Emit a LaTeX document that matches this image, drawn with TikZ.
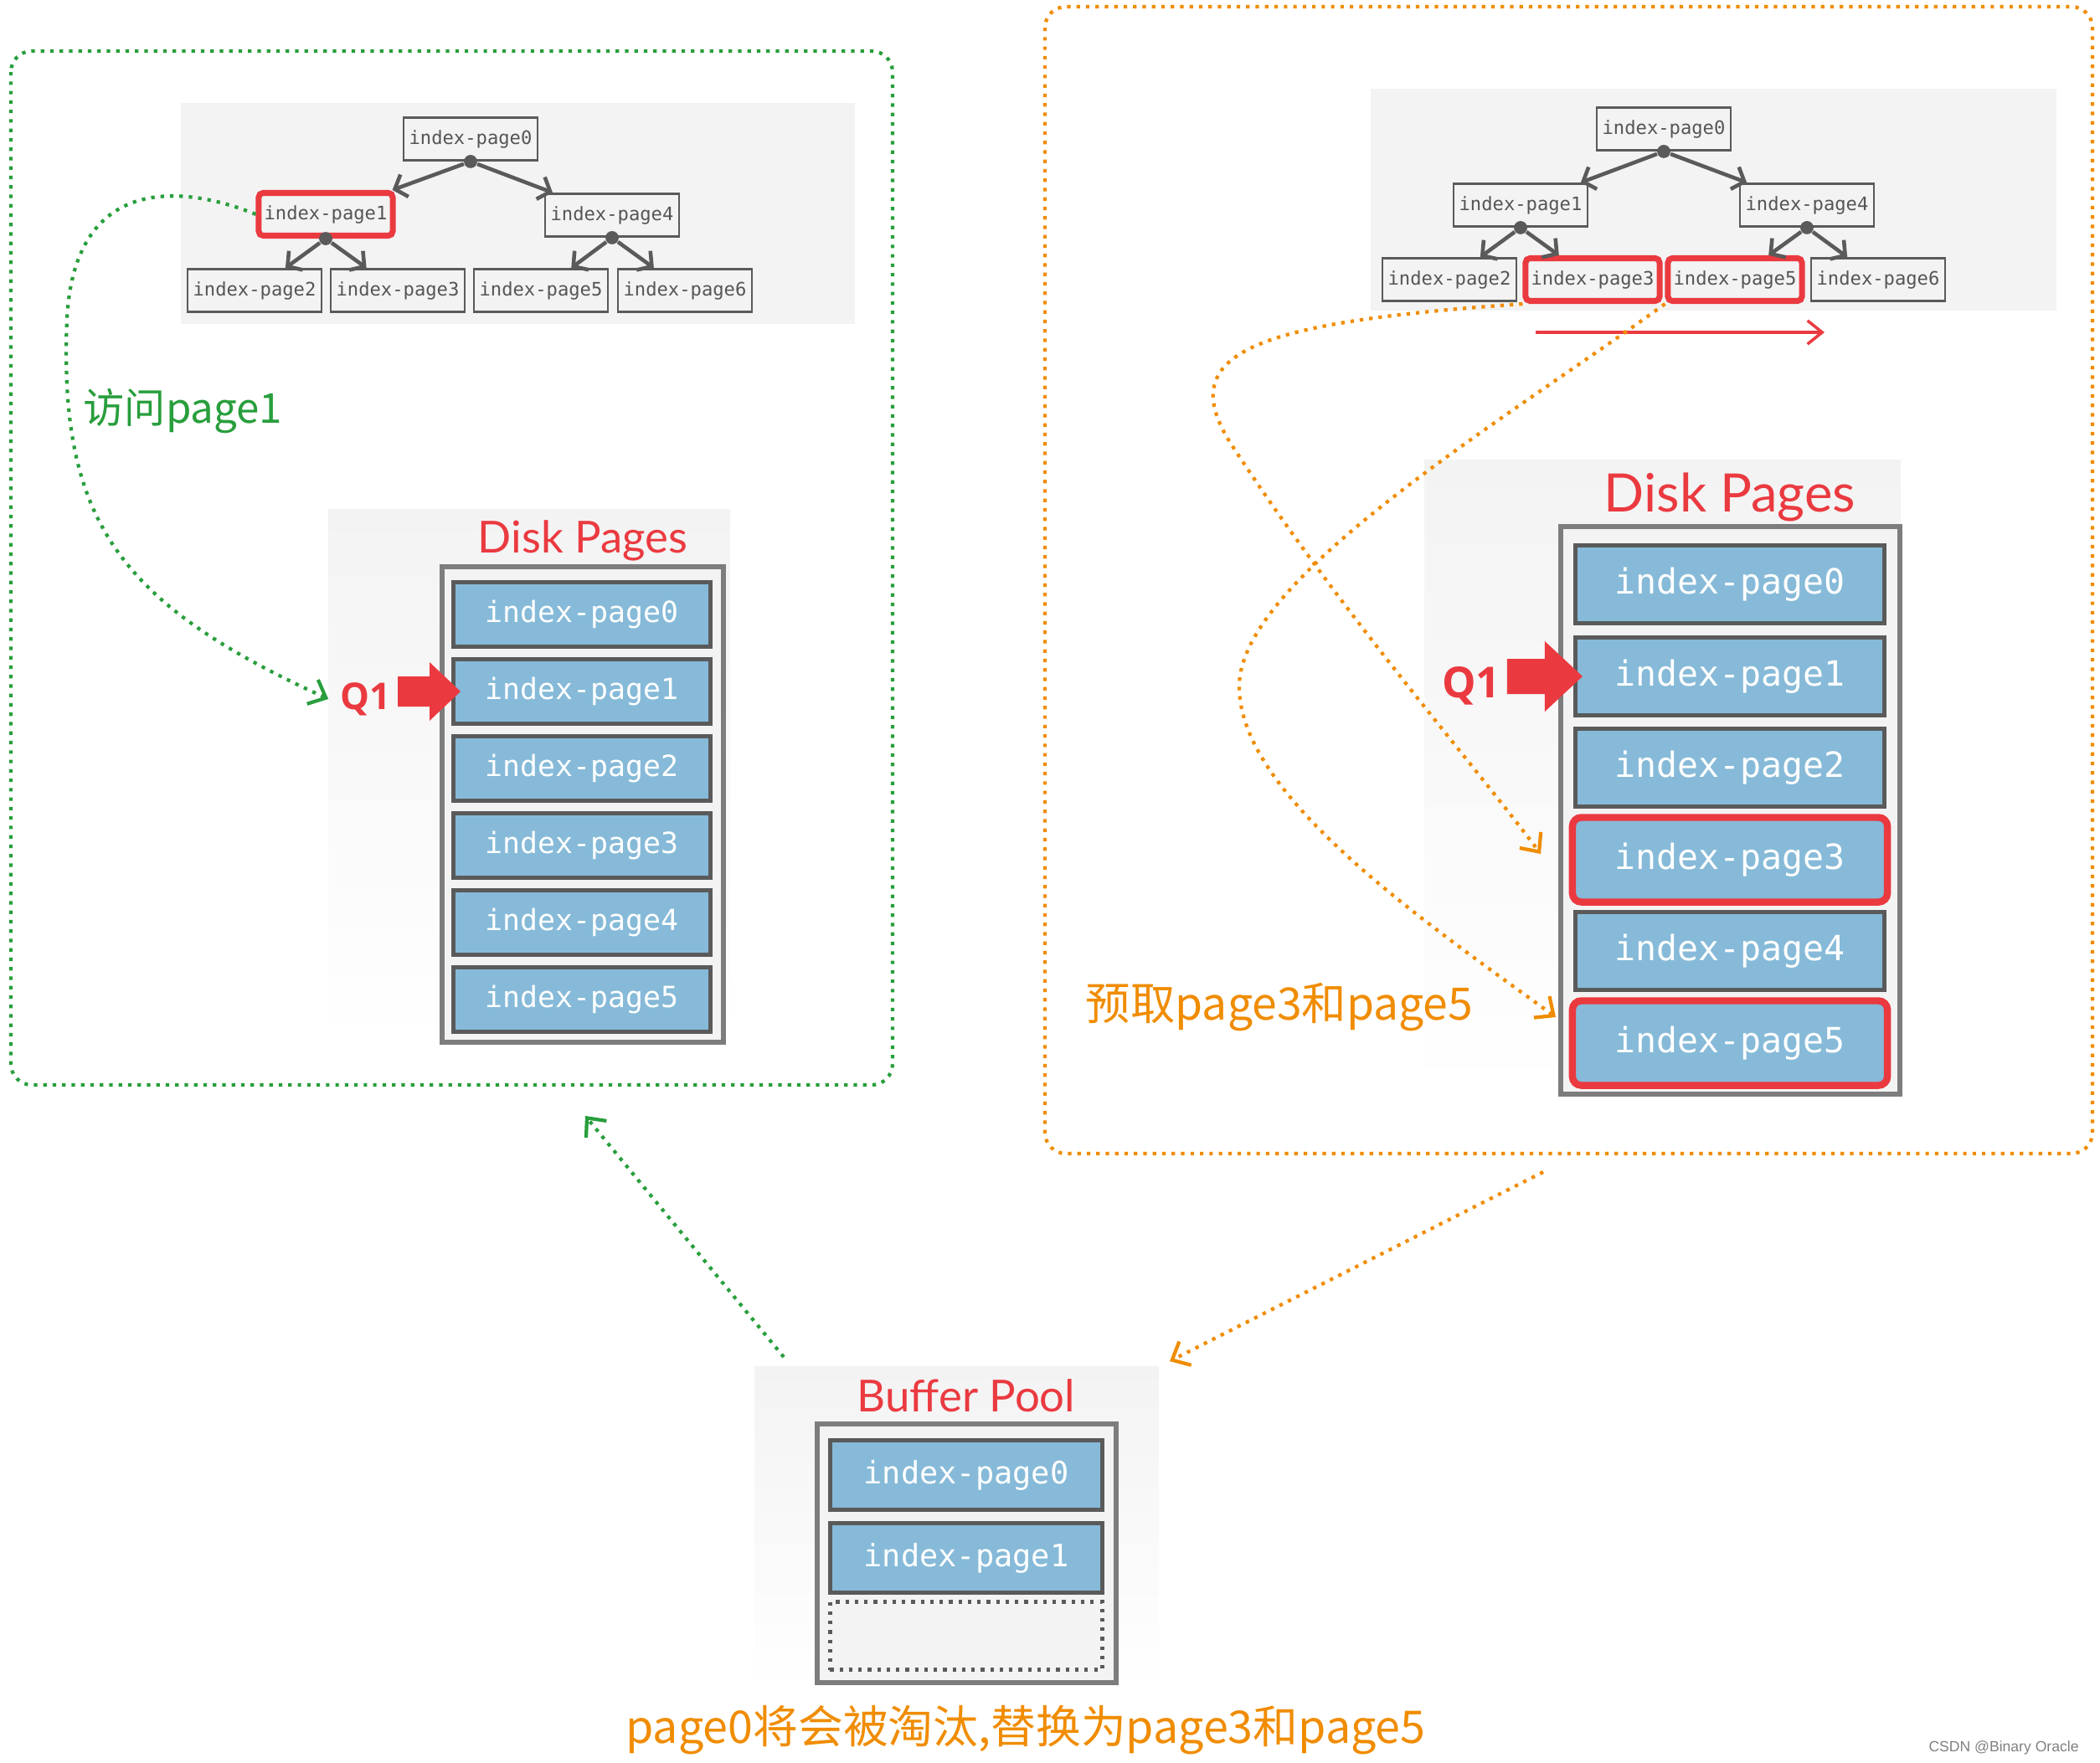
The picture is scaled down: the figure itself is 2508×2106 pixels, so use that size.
\documentclass[tikz,border=0pt]{standalone}
\usepackage{fontspec}
\setmainfont{Open Sans}
\setmonofont{DejaVu Sans Mono}
\newfontfamily\cjk{Noto Sans CJK SC}
\newfontfamily\titlefont{Lato}
\newfontfamily\markfont{Liberation Sans}
\usetikzlibrary{arrows.meta}

\definecolor{dgreen}{RGB}{40,158,60}
\definecolor{dorange}{RGB}{240,140,0}
\definecolor{hlred}{RGB}{234,58,64}
\definecolor{pageblue}{RGB}{134,186,216}
\definecolor{boxgray}{RGB}{90,90,90}
\definecolor{stackgray}{RGB}{125,125,125}
\definecolor{treetext}{RGB}{85,85,85}
\definecolor{panelgray}{RGB}{243,243,243}

\tikzset{
  treebox/.style={draw=boxgray,line width=0.8pt,fill=panelgray,minimum width=1.6cm,minimum height=0.51cm,inner sep=0pt,text=treetext,font=\ttfamily\fontsize{6.3}{7}\selectfont},
  treehl/.style={treebox,draw=hlred,line width=2pt,rounded corners=1.5pt},
  treedot/.style={circle,fill=boxgray,inner sep=0pt,minimum size=4.5pt},
  treearr/.style={draw=boxgray,line width=1.3pt,-{Straight Barb[length=3.5pt,width=8pt]}},
  panel/.style={top color=panelgray,bottom color=white},
  stack/.style={draw=stackgray,line width=1.5pt,fill=panelgray},
  lpage/.style={draw=boxgray,line width=1.4pt,fill=pageblue,inner sep=0pt,text=white,minimum width=3.06cm,minimum height=0.77cm,font=\ttfamily\fontsize{9.9}{12}\selectfont},
  rpage/.style={lpage,minimum width=3.68cm,minimum height=0.93cm,font=\ttfamily\fontsize{11.8}{14}\selectfont},
  rpagehl/.style={rpage,draw=hlred,line width=2.4pt,rounded corners=3pt,minimum width=3.76cm,minimum height=1.01cm},
  bpage/.style={lpage,minimum width=3.25cm,minimum height=0.83cm,font=\ttfamily\fontsize{10.5}{13}\selectfont},
  bempty/.style={draw=boxgray,line width=1.2pt,dotted,fill=panelgray,minimum width=3.25cm,minimum height=0.81cm},
  title/.style={text=hlred,font=\titlefont\fontsize{15}{18}\selectfont},
  qlabel/.style={text=hlred,inner sep=0pt,font=\bfseries\fontsize{12.5}{15}\selectfont},
  gflow/.style={draw=dgreen,line width=1.2pt,dotted},
  oflow/.style={draw=dorange,line width=1.2pt,dotted},
  flowtip/.style={-{Straight Barb[length=5pt,width=9pt]}},
  scanarr/.style={draw=hlred,line width=1pt,-{Straight Barb[length=5pt,width=8pt]}},
}

\begin{document}
\begin{tikzpicture}[x=0.01cm,y=-0.01cm]
\useasboundingbox (0,0) rectangle (2508,2106);

\draw[gflow,rounded corners=0.25cm] (13,61) rectangle (1066,1296);
\draw[oflow,rounded corners=0.25cm] (1248,8) rectangle (2499,1378);

\fill[panelgray] (216,123) rectangle (1021,387);
\node[treebox] (lt0) at (562,166) {index-page0};
\node[treehl] (lt1) at (389,256) {index-page1};
\node[treebox] (lt4) at (731,257) {index-page4};
\node[treebox] (lt2) at (304,347) {index-page2};
\node[treebox] (lt3) at (475,347) {index-page3};
\node[treebox] (lt5) at (646,347) {index-page5};
\node[treebox] (lt6) at (818,347) {index-page6};
\node[treedot] (lt0d) at (lt0.south) {};
\node[treedot] (lt1d) at (lt1.south) {};
\node[treedot] (lt4d) at (lt4.south) {};
\draw[treearr] (lt0d) -- (lt1);
\draw[treearr] (lt0d) -- (lt4);
\draw[treearr] (lt1d) -- (lt2);
\draw[treearr] (lt1d) -- (lt3);
\draw[treearr] (lt4d) -- (lt5);
\draw[treearr] (lt4d) -- (lt6);

\node[anchor=west,inner sep=0pt,text=dgreen,font=\cjk\fontsize{14}{16}\selectfont] (lnote) at (99,491) {访问page1};

\fill[panel] (392,608) rectangle (872,1248);
\node[title] (ltitle) at (696,646) {Disk Pages};
\draw[stack] (528,677) rectangle (864,1245);
\node[lpage] (lp0) at (695,734) {index-page0};
\node[lpage] (lp1) at (695,826) {index-page1};
\node[lpage] (lp2) at (695,918) {index-page2};
\node[lpage] (lp3) at (695,1010) {index-page3};
\node[lpage] (lp4) at (695,1102) {index-page4};
\node[lpage] (lp5) at (695,1194) {index-page5};
\node[qlabel] (lq) at (437,835) {Q1};
\fill[hlred] ([xshift=3pt]lp1.west) -- ++(-37,-35) -- ++(0,17) -- ++(-38,0) -- ++(0,36) -- ++(38,0) -- ++(0,17) -- cycle;

\draw[gflow,flowtip] (lt1.west) .. controls (230,225) and (90,200) .. (80,380) .. controls (70,620) and (140,720) .. ([xshift=-4pt]lq.west);

\fill[panelgray] (1637,106) rectangle (2456,371);
\node[treebox] (rt0) at (1987,154) {index-page0};
\node[treebox] (rt1) at (1816,245) {index-page1};
\node[treebox] (rt4) at (2158,245) {index-page4};
\node[treebox] (rt2) at (1731,334) {index-page2};
\node[treehl] (rt3) at (1902,334) {index-page3};
\node[treehl] (rt5) at (2072,334) {index-page5};
\node[treebox] (rt6) at (2243,334) {index-page6};
\node[treedot] (rt0d) at (rt0.south) {};
\node[treedot] (rt1d) at (rt1.south) {};
\node[treedot] (rt4d) at (rt4.south) {};
\draw[treearr] (rt0d) -- (rt1);
\draw[treearr] (rt0d) -- (rt4);
\draw[treearr] (rt1d) -- (rt2);
\draw[treearr] (rt1d) -- (rt3);
\draw[treearr] (rt4d) -- (rt5);
\draw[treearr] (rt4d) -- (rt6);
\coordinate (sa) at (1834,397);
\coordinate (sb) at (2179,397);
\draw[scanarr] (sa) -- (sb);

\fill[panel] (1701,549) rectangle (2270,1307);
\node[title,font=\titlefont\fontsize{18}{21}\selectfont] (rtitle) at (2066,594) {Disk Pages};
\draw[stack] (1864,629) rectangle (2269,1307);
\node[rpage] (rp0) at (2066,698) {index-page0};
\node[rpage] (rp1) at (2066,808) {index-page1};
\node[rpage] (rp2) at (2066,917) {index-page2};
\node[rpagehl] (rp3) at (2066,1027) {index-page3};
\node[rpage] (rp4) at (2066,1136) {index-page4};
\node[rpagehl] (rp5) at (2066,1246) {index-page5};
\node[qlabel,font=\bfseries\fontsize{14.5}{17}\selectfont] (rq) at (1757,819) {Q1};
\fill[hlred] ([xshift=3pt]rp1.west) -- ++(-45,-42) -- ++(0,21) -- ++(-45,0) -- ++(0,42) -- ++(45,0) -- ++(0,21) -- cycle;

\node[anchor=west,inner sep=0pt,text=dorange,font=\cjk\fontsize{15.2}{18}\selectfont] (rnote) at (1296,1203) {预取page3和page5};

\coordinate (o3) at (1840,1020);
\coordinate (o5) at (1858,1215);
\draw[oflow,flowtip] (rt3.south west) .. controls (1500,385) and (1400,420) .. (1470,530) .. controls (1600,730) and (1750,900) .. (o3);
\draw[oflow,flowtip] (rt5.south west) .. controls (1800,500) and (1480,690) .. (1480,820) .. controls (1480,950) and (1700,1100) .. (o5);

\fill[panel] (901,1632) rectangle (1384,2019);
\node[title] (btitle) at (1154,1667) {Buffer Pool};
\draw[stack] (976,1701) rectangle (1333,2010);
\node[bpage] (bp0) at (1154,1762) {index-page0};
\node[bpage] (bp1) at (1154,1861) {index-page1};
\node[bempty] (bp2) at (1154,1954) {};

\coordinate (gfrom) at (936,1621);
\coordinate (gto) at (699,1333);
\draw[gflow,flowtip] (gfrom) -- (gto);
\coordinate (ofrom) at (1843,1400);
\coordinate (oto) at (1397,1626);
\draw[oflow,flowtip] (ofrom) -- (oto);

\node[text=dorange,font=\cjk\fontsize{15.3}{18}\selectfont] (bnote) at (1225,2067) {page0将会被淘汰,替换为page3和page5};
\node[anchor=east,text=gray,font=\markfont\fontsize{5}{6}\selectfont] (mark) at (2495,2088) {CSDN @Binary Oracle};
\end{tikzpicture}
\end{document}
